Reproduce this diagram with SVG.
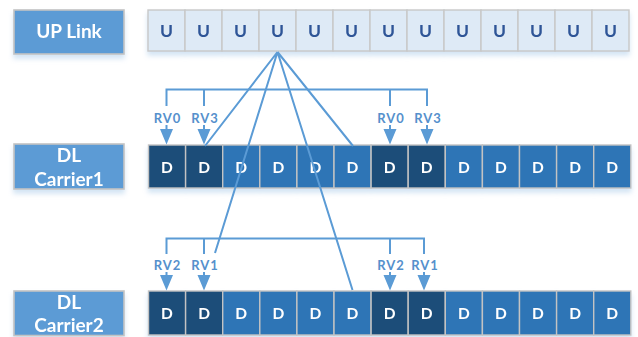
<svg xmlns="http://www.w3.org/2000/svg" width="638" height="337" viewBox="0 0 638 337">
  <defs>
    <filter id="soft" x="-5%" y="-20%" width="110%" height="160%">
      <feDropShadow dx="0" dy="4" stdDeviation="2.5" flood-color="#9dc3e6" flood-opacity="0.45"/>
    </filter>
  </defs>
  <style>
    .lbl { fill: #5b9bd5; stroke: #c3c3c3; stroke-width: 1.6; }
    .lbltxt { font-family: Lato, "Open Sans", sans-serif; font-weight: bold; font-size: 19px; fill: #ffffff; text-anchor: middle; }
    .ucell { fill: #deeaf6; stroke: #c8c8c8; stroke-width: 1.4; }
    .dcell { fill: #2e75b6; stroke: #c3c3c3; stroke-width: 1.4; }
    .dark { fill: #1f4e79; }
    .utxt { font-family: Lato, "Open Sans", sans-serif; font-weight: bold; font-size: 17.5px; fill: #2f5597; text-anchor: middle; }
    .dtxt { font-family: Lato, "Open Sans", sans-serif; font-weight: bold; font-size: 15.5px; fill: #ffffff; text-anchor: middle; }
    .rv { font-family: Lato, "Open Sans", sans-serif; font-weight: bold; font-size: 13px; fill: #5590cc; text-anchor: middle; letter-spacing: 1px; }
    .wire { stroke: #5b9bd5; stroke-width: 2; fill: none; }
    .head { fill: #5b9bd5; }
  </style>

  <!-- row labels -->
  <g id="label-uplink" filter="url(#soft)">
    <rect class="lbl" x="14" y="10" width="110" height="44"/>
    <text class="lbltxt" x="69" y="37.5">UP Link</text>
  </g>
  <g id="label-carrier1" filter="url(#soft)">
    <rect class="lbl" x="14" y="144" width="110" height="45"/>
    <text class="lbltxt" x="69" y="161.5">DL</text>
    <text class="lbltxt" x="69" y="185.5">Carrier1</text>
  </g>
  <g id="label-carrier2" filter="url(#soft)">
    <rect class="lbl" x="14" y="291" width="110" height="44.5"/>
    <text class="lbltxt" x="69" y="308.5">DL</text>
    <text class="lbltxt" x="69" y="332">Carrier2</text>
  </g>

  <!-- uplink subframes -->
  <g id="uplink-row" filter="url(#soft)">
    <rect class="ucell" x="148" y="10" width="37" height="41"/>
    <rect class="ucell" x="185" y="10" width="37" height="41"/>
    <rect class="ucell" x="222" y="10" width="37" height="41"/>
    <rect class="ucell" x="259" y="10" width="37" height="41"/>
    <rect class="ucell" x="296" y="10" width="37" height="41"/>
    <rect class="ucell" x="333" y="10" width="37" height="41"/>
    <rect class="ucell" x="370" y="10" width="37" height="41"/>
    <rect class="ucell" x="407" y="10" width="37" height="41"/>
    <rect class="ucell" x="444" y="10" width="37" height="41"/>
    <rect class="ucell" x="481" y="10" width="37" height="41"/>
    <rect class="ucell" x="518" y="10" width="37" height="41"/>
    <rect class="ucell" x="555" y="10" width="37" height="41"/>
    <rect class="ucell" x="592" y="10" width="37" height="41"/>
    <text class="utxt" x="166.5" y="37">U</text>
    <text class="utxt" x="203.5" y="37">U</text>
    <text class="utxt" x="240.5" y="37">U</text>
    <text class="utxt" x="277.5" y="37">U</text>
    <text class="utxt" x="314.5" y="37">U</text>
    <text class="utxt" x="351.5" y="37">U</text>
    <text class="utxt" x="388.5" y="37">U</text>
    <text class="utxt" x="425.5" y="37">U</text>
    <text class="utxt" x="462.5" y="37">U</text>
    <text class="utxt" x="499.5" y="37">U</text>
    <text class="utxt" x="536.5" y="37">U</text>
    <text class="utxt" x="573.5" y="37">U</text>
    <text class="utxt" x="610.5" y="37">U</text>
  </g>

  <!-- downlink carrier 1 subframes -->
  <g id="carrier1-row" filter="url(#soft)">
    <rect class="dcell dark" x="148.5" y="145" width="37.1" height="43"/>
    <rect class="dcell dark" x="185.6" y="145" width="37.1" height="43"/>
    <rect class="dcell" x="222.7" y="145" width="37.1" height="43"/>
    <rect class="dcell" x="259.8" y="145" width="37.1" height="43"/>
    <rect class="dcell" x="296.9" y="145" width="37.1" height="43"/>
    <rect class="dcell" x="334" y="145" width="37.1" height="43"/>
    <rect class="dcell dark" x="371.1" y="145" width="37.1" height="43"/>
    <rect class="dcell dark" x="408.2" y="145" width="37.1" height="43"/>
    <rect class="dcell" x="445.3" y="145" width="37.1" height="43"/>
    <rect class="dcell" x="482.4" y="145" width="37.1" height="43"/>
    <rect class="dcell" x="519.5" y="145" width="37.1" height="43"/>
    <rect class="dcell" x="556.6" y="145" width="37.1" height="43"/>
    <rect class="dcell" x="593.7" y="145" width="37.1" height="43"/>
    <text class="dtxt" x="167" y="172.5">D</text>
    <text class="dtxt" x="204.1" y="172.5">D</text>
    <text class="dtxt" x="241.2" y="172.5">D</text>
    <text class="dtxt" x="278.3" y="172.5">D</text>
    <text class="dtxt" x="315.4" y="172.5">D</text>
    <text class="dtxt" x="352.5" y="172.5">D</text>
    <text class="dtxt" x="389.6" y="172.5">D</text>
    <text class="dtxt" x="426.7" y="172.5">D</text>
    <text class="dtxt" x="463.8" y="172.5">D</text>
    <text class="dtxt" x="500.9" y="172.5">D</text>
    <text class="dtxt" x="538" y="172.5">D</text>
    <text class="dtxt" x="575.1" y="172.5">D</text>
    <text class="dtxt" x="612.2" y="172.5">D</text>
  </g>

  <!-- downlink carrier 2 subframes -->
  <g id="carrier2-row" filter="url(#soft)">
    <rect class="dcell dark" x="148.5" y="291" width="37.1" height="44"/>
    <rect class="dcell dark" x="185.6" y="291" width="37.1" height="44"/>
    <rect class="dcell" x="222.7" y="291" width="37.1" height="44"/>
    <rect class="dcell" x="259.8" y="291" width="37.1" height="44"/>
    <rect class="dcell" x="296.9" y="291" width="37.1" height="44"/>
    <rect class="dcell" x="334" y="291" width="37.1" height="44"/>
    <rect class="dcell dark" x="371.1" y="291" width="37.1" height="44"/>
    <rect class="dcell dark" x="408.2" y="291" width="37.1" height="44"/>
    <rect class="dcell" x="445.3" y="291" width="37.1" height="44"/>
    <rect class="dcell" x="482.4" y="291" width="37.1" height="44"/>
    <rect class="dcell" x="519.5" y="291" width="37.1" height="44"/>
    <rect class="dcell" x="556.6" y="291" width="37.1" height="44"/>
    <rect class="dcell" x="593.7" y="291" width="37.1" height="44"/>
    <text class="dtxt" x="167" y="318.5">D</text>
    <text class="dtxt" x="204.1" y="318.5">D</text>
    <text class="dtxt" x="241.2" y="318.5">D</text>
    <text class="dtxt" x="278.3" y="318.5">D</text>
    <text class="dtxt" x="315.4" y="318.5">D</text>
    <text class="dtxt" x="352.5" y="318.5">D</text>
    <text class="dtxt" x="389.6" y="318.5">D</text>
    <text class="dtxt" x="426.7" y="318.5">D</text>
    <text class="dtxt" x="463.8" y="318.5">D</text>
    <text class="dtxt" x="500.9" y="318.5">D</text>
    <text class="dtxt" x="538" y="318.5">D</text>
    <text class="dtxt" x="575.1" y="318.5">D</text>
    <text class="dtxt" x="612.2" y="318.5">D</text>
  </g>

  <!-- connectors: fan-out from the uplink subframe, retransmission brackets and arrows -->
  <g id="connectors">
    <path class="wire" d="M277.5 52 L205 146 M277.5 52 L353 146 M277.5 52 L215 253 M277.5 52 L352.5 290"/>

    <!-- carrier 1 bracket -->
    <path class="wire" d="M166.5 106 V89.5 H427 V106 M204 89.5 V106 M390 89.5 V106"/>
    <text class="rv" x="167.5" y="122.5">RV0</text>
    <text class="rv" x="205" y="122.5">RV3</text>
    <text class="rv" x="391" y="122.5">RV0</text>
    <text class="rv" x="428" y="122.5">RV3</text>
    <path class="wire" d="M166.5 125 V131 M204 125 V131 M390 125 V131 M427 125 V131"/>
    <path class="head" d="M160 129 H173 L166.5 144.5 Z M197.5 129 H210.5 L204 144.5 Z M383.5 129 H396.5 L390 144.5 Z M420.5 129 H433.5 L427 144.5 Z"/>

    <!-- carrier 2 bracket -->
    <path class="wire" d="M166.5 254 V238.5 H424 V254 M204 238.5 V254 M390 238.5 V254"/>
    <text class="rv" x="167.5" y="270">RV2</text>
    <text class="rv" x="205" y="270">RV1</text>
    <text class="rv" x="391" y="270">RV2</text>
    <text class="rv" x="425" y="270">RV1</text>
    <path class="wire" d="M166.5 272 V277 M204 272 V277 M390 272 V277 M424 272 V277"/>
    <path class="head" d="M160 275 H173 L166.5 290.5 Z M197.5 275 H210.5 L204 290.5 Z M383.5 275 H396.5 L390 290.5 Z M417.5 275 H430.5 L424 290.5 Z"/>
  </g>
</svg>
